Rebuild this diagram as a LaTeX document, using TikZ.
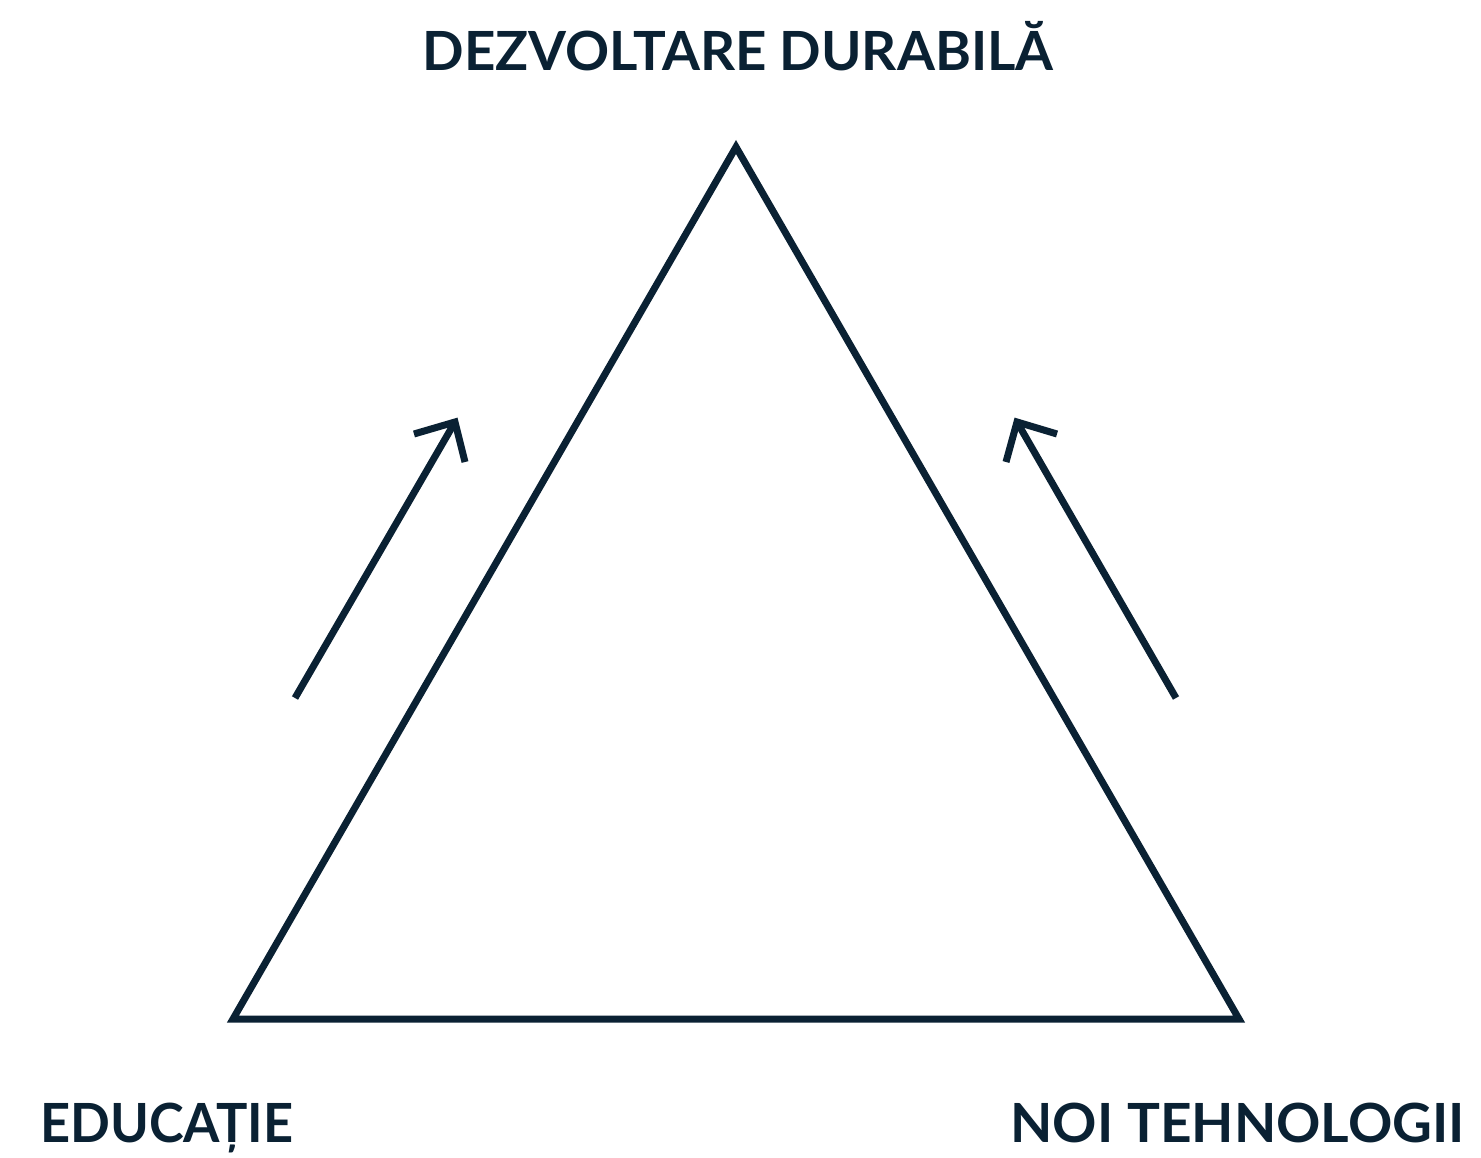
\documentclass[tikz,border=0pt]{standalone}
\usepackage{fontspec}
\setmainfont{Lato}
\definecolor{navy}{RGB}{10,33,51}
\begin{document}
\begin{tikzpicture}[x=1pt,y=-1pt,
  edge/.style={draw=navy,line width=7pt,line join=miter},
  lbl/.style={text=navy,inner sep=0pt,font=\fontsize{54}{54}\selectfont\bfseries}]
\useasboundingbox (0,0) rectangle (1481,1158);
\fill[white] (0,0) rectangle (1481,1158);
% triangle
\coordinate (top) at (736,147);
\coordinate (bl) at (233,1019);
\coordinate (br) at (1239,1019);
\draw[edge] (top) -- (br) -- (bl) -- cycle;
% left arrow
\coordinate (L1) at (295,698);
\coordinate (L2) at (455,422);
\coordinate (La) at (414,434);
\coordinate (Lb) at (465,462);
\draw[edge] (L1) -- (L2);
\draw[edge] (La) -- (L2) -- (Lb);
% right arrow
\coordinate (R1) at (1176,698);
\coordinate (R2) at (1017,422);
\coordinate (Ra) at (1057,434);
\coordinate (Rb) at (1006,462);
\draw[edge] (R1) -- (R2);
\draw[edge] (Ra) -- (R2) -- (Rb);
% labels
\node[lbl,anchor=base,xscale=1.012,transform shape] (t) at (738,71) {DEZVOLTARE DURABILĂ};
\node[lbl,anchor=base west,xscale=0.97,transform shape] (e) at (40,1142) {EDUCAȚIE};
\node[lbl,anchor=base east,xscale=1.018,transform shape] (n) at (1465,1142) {NOI TEHNOLOGII};
\end{tikzpicture}
\end{document}
